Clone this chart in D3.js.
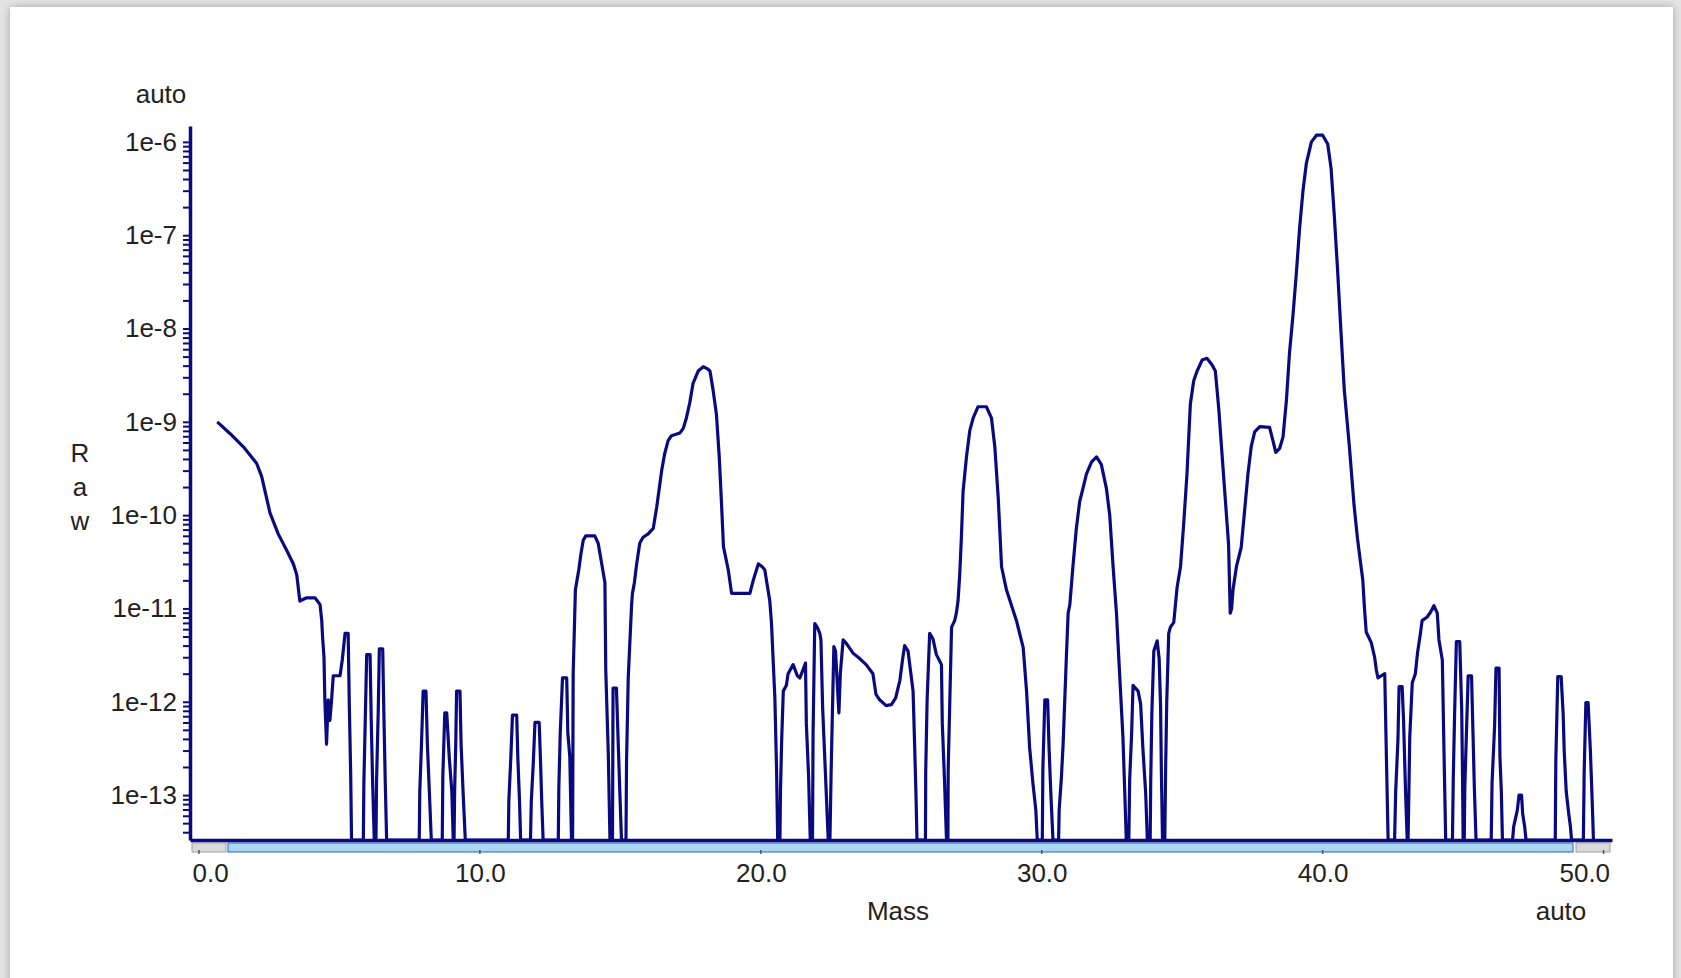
<!DOCTYPE html>
<html>
<head>
<meta charset="utf-8">
<script src="https://cdn.jsdelivr.net/npm/d3@7"></script>
<style>
  html, body { margin: 0; padding: 0; background: #e4e4e4; }
  svg { display: block; }
  text { font-family: "Liberation Sans", Arial, sans-serif; font-size: 26px; fill: #222; }
</style>
</head>
<body>
<div id="chart"></div>
<script>

// mass (amu) of each vertex of the trace
var mass = [
  0.65,1.10,1.58,2.05,2.23,2.53,2.82,3.12,3.36,3.48,3.59,3.83,4.13,4.31,4.37,4.40,4.45,4.48,4.54,4.60,4.66,4.72,4.78,5.02,5.10,5.20,5.31,5.35,5.40,5.43,
  5.85,5.87,5.92,5.97,6.09,6.13,6.18,6.24, 6.30,6.32,6.38,6.42,6.54,6.58,6.63,6.68,
  7.84,7.86,7.92,7.98,8.08,8.13,8.20,8.27, 8.66,8.68,8.75,8.82,8.91,9.00,9.05,
  9.08,9.10,9.14,9.17,9.29,9.33,9.40,9.48,
  11.01,11.03,11.10,11.16,11.31,11.35,11.41,11.45, 11.80,11.83,11.90,11.96,12.11,12.16,12.20,12.25,
  12.79,12.81,12.86,12.94,13.09,13.13,13.20,13.26,
  13.30,13.32,13.40,13.52,13.60,13.68,13.77,14.09,14.21,14.30,14.45,14.48,14.57,14.63,
  14.72,14.74,14.86,14.92,14.98,15.04,
  15.20,15.22,15.28,15.40,15.43,15.50,15.58,15.69,15.81,15.99,16.17,16.29,16.41,16.47,16.58,16.70,16.82,17.12,17.24,17.35,17.47,17.59,17.77,17.95,18.10,18.19,18.30,18.42,18.52,18.60,18.67,18.84,18.96,19.61,19.73,19.91,20.05,20.14,20.32,20.38,20.50,20.56,20.60,
  20.68,20.70,20.74,20.80,20.91,20.97,21.15,21.30,21.39,21.50,21.59,21.62,21.70,21.76,21.84,21.86,21.92,22.02,22.10,22.14,22.20,22.30,22.40,22.46,22.50,22.55,22.60,22.66,22.72,22.78,22.83,22.93,23.05,23.29,23.52,23.75,23.99,24.10,24.23,24.46,24.65,24.80,24.95,25.05,25.12,25.24,25.42,25.47,25.52,25.56,
  25.86,25.87,25.92,26.01,26.13,26.25,26.43,26.46,26.54,26.61,26.66,26.67,26.73,26.79,26.90,26.96,27.02,27.08,27.14,27.20,27.32,27.44,27.56,27.73,28.03,28.21,28.33,28.45,28.57,28.74,29.10,29.34,29.46,29.57,29.69,29.79,29.84,
  30.02,30.04,30.11,30.21,30.26,30.33,30.40,30.60,30.62,30.70,30.76,30.82,30.88,30.94,31.00,31.11,31.23,31.35,31.47,31.59,31.77,31.95,32.12,32.30,32.42,32.54,32.66,32.78,32.89,32.95,33.01,33.10,33.13,33.20,33.25,33.43,33.52,33.60,33.70,33.76,33.86,33.88,33.92,33.99,34.11,34.18,34.23,34.26,34.30,
  34.38,34.41,34.45,34.52,34.58,34.70,34.82,34.94,35.05,35.17,35.29,35.41,35.53,35.71,35.88,36.06,36.18,36.30,36.42,36.54,36.65,36.71,36.76,36.81,36.93,37.10,37.22,37.34,37.46,37.58,37.76,38.11,38.23,38.33,38.47,38.59,38.71,38.82,38.94,39.06,39.18,39.30,39.42,39.60,39.78,40.00,40.18,40.30,40.41,40.53,40.65,40.77,40.95,41.12,41.24,41.43,41.48,41.55,41.73,41.85,41.91,41.97,42.09,42.21,42.27,42.33,
  42.56,42.60,42.68,42.72,42.83,42.88,42.95,43.01,43.04,43.07,43.10,43.19,43.30,43.38,43.48,43.54,43.72,43.84,43.96,44.08,44.14,44.26,44.32,44.38,44.62,44.65,44.70,44.76,44.88,44.95,44.98,45.00,45.04,45.06,45.12,45.18,45.30,45.35,45.40,45.46,46.00,46.03,46.12,46.17,46.28,46.31,46.36,46.40,46.76,46.80,46.93,46.99,47.08,47.12,47.19,47.24,48.28,48.30,48.37,48.49,48.56,48.60,48.67,48.76,48.82,48.86,49.28,49.31,49.37,49.45,49.53,49.59,49.64
];

// raw ion current at each vertex (0 = below range)
var raw = [
  1.0e-9,7.5e-10,5.4e-10,3.6e-10,2.6e-10,1.05e-10,6.3e-11,4.2e-11,3.0e-11,2.3e-11,1.2e-11,1.3e-11,1.3e-11,1.1e-11,7.4e-12,4.9e-12,3.0e-12,1.05e-12,3.5e-13,1.05e-12,6.3e-13,1.05e-12,1.9e-12,1.9e-12,2.8e-12,5.4e-12,5.4e-12,9.5e-13,1.7e-13,0,
  0,1.4e-13,6.6e-13,3.2e-12,3.2e-12,6.6e-13,1.4e-13,0, 0,1.4e-13,7.8e-13,3.7e-12,3.7e-12,7.8e-13,1.4e-13,0,
  0,1.1e-13,3.5e-13,1.3e-12,1.3e-12,3.5e-13,1.1e-13,0, 0,1.6e-13,7.6e-13,7.6e-13,2.5e-13,1.1e-13,0,
  0,1.1e-13,3.5e-13,1.3e-12,1.3e-12,3.5e-13,1.1e-13,0,
  0,8.7e-14,2.5e-13,7.2e-13,7.2e-13,2.5e-13,8.7e-14,0, 0,8.7e-14,2.2e-13,6.0e-13,6.0e-13,2.2e-13,8.7e-14,0,
  0,1.2e-13,4.6e-13,1.8e-12,1.8e-12,4.6e-13,2.6e-13,0,
  0,2.0e-12,1.6e-11,2.6e-11,3.9e-11,5.4e-11,6.0e-11,6.0e-11,5.0e-11,3.5e-11,1.9e-11,2.2e-12,2.8e-13,0,
  0,1.4e-12,1.4e-12,3.9e-13,1.1e-13,0,
  0,2.3e-13,1.8e-12,1.1e-11,1.45e-11,1.9e-11,3.0e-11,5.0e-11,5.8e-11,6.3e-11,7.2e-11,1.2e-10,2.2e-10,3.0e-10,4.6e-10,6.3e-10,7.1e-10,7.6e-10,8.5e-10,1.1e-9,1.6e-9,2.6e-9,3.5e-9,3.9e-9,3.7e-9,3.5e-9,2.2e-9,1.2e-9,4.2e-10,1.35e-10,4.6e-11,2.6e-11,1.45e-11,1.45e-11,2.0e-11,3.0e-11,2.8e-11,2.6e-11,1.2e-11,6.9e-12,1.1e-12,1.9e-13,0,
  0,1.1e-13,3.7e-13,1.3e-12,1.5e-12,2.0e-12,2.5e-12,1.9e-12,1.8e-12,2.2e-12,2.6e-12,5.9e-13,1.6e-13,0,0,4.6e-13,6.9e-12,6.2e-12,5.4e-12,4.6e-12,8.7e-13,1.7e-13,0,0,1.6e-13,8.1e-13,3.9e-12,3.5e-12,1.6e-12,7.6e-13,2.0e-12,4.6e-12,4.2e-12,3.3e-12,2.9e-12,2.5e-12,2.0e-12,1.2e-12,1.05e-12,9.1e-13,9.3e-13,1.1e-12,1.7e-12,2.9e-12,4.0e-12,3.5e-12,1.3e-12,3.9e-13,1.1e-13,0,
  0,1.8e-13,1.05e-12,5.4e-12,4.7e-12,3.2e-12,2.5e-12,5.9e-13,1.4e-13,0,0,1.9e-13,1.1e-12,6.3e-12,7.4e-12,8.9e-12,1.2e-11,2.3e-11,5.8e-11,1.8e-10,4.2e-10,8.1e-10,1.1e-9,1.45e-9,1.45e-9,1.1e-9,5.4e-10,1.55e-10,2.8e-11,1.6e-11,7.4e-12,3.8e-12,1.3e-12,3.2e-13,1.3e-13,6.9e-14,0,
  0,1.9e-13,1.05e-12,1.05e-12,3.2e-13,9.5e-14,0,0,6.9e-14,1.55e-13,3.5e-13,1.05e-12,3.2e-12,8.9e-12,1.1e-11,2.8e-11,7.1e-11,1.4e-10,1.95e-10,2.75e-10,3.7e-10,4.2e-10,3.5e-10,1.95e-10,1.0e-10,2.8e-11,8.9e-12,1.8e-12,4.2e-13,1.2e-13,0,0,1.45e-13,4.6e-13,1.5e-12,1.3e-12,9.5e-13,3.2e-13,1.05e-13,0,0,1.45e-13,7.6e-13,3.5e-12,4.5e-12,2.9e-12,9.1e-13,1.7e-13,0,
  0,1.9e-13,1.0e-12,5.4e-12,6.3e-12,7.1e-12,1.7e-11,2.8e-11,7.8e-11,2.75e-10,1.55e-9,2.75e-9,3.5e-9,4.6e-9,4.8e-9,4.1e-9,3.5e-9,1.4e-9,4.4e-10,1.4e-10,4.9e-11,8.9e-12,1.0e-11,1.6e-11,2.8e-11,4.5e-11,1.1e-10,2.75e-10,5.5e-10,7.8e-10,8.9e-10,8.7e-10,6.3e-10,4.7e-10,5.2e-10,6.9e-10,1.7e-9,5.5e-9,1.35e-8,3.8e-8,1.2e-7,3.0e-7,5.9e-7,1.0e-6,1.18e-6,1.18e-6,9.5e-7,5.2e-7,1.7e-7,4.3e-8,9.5e-9,2.2e-9,5.5e-10,1.26e-10,5.6e-11,2.0e-11,1.1e-11,5.6e-12,4.3e-12,3.0e-12,2.2e-12,1.8e-12,1.9e-12,2.0e-12,2.5e-13,0,
  0,1.1e-13,3.9e-13,1.45e-12,1.45e-12,6.3e-13,1.1e-13,0,0,1.1e-13,4.1e-13,1.6e-12,2.0e-12,3.4e-12,5.4e-12,7.4e-12,8.1e-12,9.1e-12,1.07e-11,8.9e-12,4.6e-12,2.8e-12,2.9e-13,0,0,1.55e-13,8.1e-13,4.4e-12,4.4e-12,8.1e-13,1.55e-13,0,0,1.2e-13,4.8e-13,1.9e-12,1.9e-12,4.8e-13,1.2e-13,0,0,1.35e-13,5.4e-13,2.3e-12,2.3e-12,2.6e-13,1.1e-13,0,0,4.6e-14,6.9e-14,1.0e-13,1.0e-13,6.3e-14,4.6e-14,0,0,2.3e-13,1.86e-12,1.86e-12,7.6e-13,2.9e-13,1.1e-13,6.3e-14,4.6e-14,0,0,1.8e-13,9.8e-13,9.8e-13,3.0e-13,9.5e-14,0
];

var xTicks = [0, 10, 20, 30, 40, 50];
var yDecades = [-14, -13, -12, -11, -10, -9, -8, -7, -6];
var yMin = 3.3e-14, yMax = 1.48e-6;
var massMin = -0.32, massMax = 50.3;

var W = 1681, H = 978;
var navy = "#0a0a80";

var svg = d3.select("#chart").append("svg")
    .attr("width", W)
    .attr("height", H);

var filt = svg.append("defs").append("filter")
    .attr("id", "shadow")
    .attr("x", "-2%").attr("y", "-2%").attr("width", "104%").attr("height", "104%");
filt.append("feDropShadow")
    .attr("dx", 0).attr("dy", 0)
    .attr("stdDeviation", 4)
    .attr("flood-color", "#888")
    .attr("flood-opacity", 0.7);

// white panel
svg.append("rect")
    .attr("x", 10).attr("y", 7)
    .attr("width", 1663).attr("height", 1000)
    .attr("fill", "#fff")
    .attr("filter", "url(#shadow)");

var x = d3.scaleLinear().domain([massMin, massMax]).range([190, 1612]);
var y = d3.scaleLog().domain([yMin, yMax]).range([840, 126]);

// y axis: 1..9 x 10^k ticks, labels on the decades only
var yTickVals = [];
yDecades.forEach(function(e) {
  for (var k = 1; k < 10; k++) {
    var v = k * Math.pow(10, e);
    if (v >= yMin && v <= yMax) yTickVals.push(v);
  }
});

var gy = svg.append("g")
    .attr("transform", "translate(190,0)")
    .call(d3.axisLeft(y)
      .tickValues(yTickVals)
      .tickSize(7)
      .tickSizeOuter(0)
      .tickPadding(6)
      .tickFormat(function(v) {
        var e = Math.log10(v);
        return Math.abs(e - Math.round(e)) < 1e-6 ? "1e" + Math.round(e) : "";
      }));
gy.select(".domain").attr("stroke", navy).attr("stroke-width", 3.5);
gy.selectAll(".tick line").attr("stroke", navy).attr("stroke-width", 2);

// scroll bar under the x axis
svg.append("rect")
    .attr("x", 228).attr("y", 843)
    .attr("width", 1345).attr("height", 9)
    .attr("fill", "#a9d6f3")
    .attr("stroke", "#2c64a8").attr("stroke-width", 1);
[[192, 34], [1576, 34]].forEach(function(g) {
  svg.append("rect")
      .attr("x", g[0]).attr("y", 843)
      .attr("width", g[1]).attr("height", 9)
      .attr("fill", "#d9d9d9")
      .attr("stroke", "#a0a0a0").attr("stroke-width", 1);
});

// x axis
var gx = svg.append("g")
    .attr("transform", "translate(0,840)")
    .call(d3.axisBottom(x)
      .tickValues(xTicks)
      .tickSize(0)
      .tickSizeOuter(0)
      .tickPadding(24)
      .tickFormat(d3.format(".1f")));
gx.select(".domain").attr("stroke", navy).attr("stroke-width", 3.5);
gx.selectAll(".tick text")
    .attr("text-anchor", function(d, i) { return i == 0 ? "start" : (i == xTicks.length - 1 ? "end" : "middle"); })
    .attr("x", function(d, i) { return i == 0 ? -7 : (i == xTicks.length - 1 ? 6 : 0); });

svg.selectAll(".xmark")
    .data(xTicks)
    .enter().append("line")
    .attr("class", "xmark")
    .attr("x1", function(d) { return x(d); })
    .attr("x2", function(d) { return x(d); })
    .attr("y1", 850).attr("y2", 854)
    .attr("stroke", "#555").attr("stroke-width", 1.5);

// the trace
var spectrum = mass.map(function(m, i) { return {m: m, v: raw[i]}; });

var line = d3.line()
    .curve(d3.curveLinear)
    .x(function(d) { return x(d.m); })
    .y(function(d) { return y(Math.max(d.v, yMin)); });

svg.append("path")
    .datum(spectrum)
    .attr("fill", "none")
    .attr("stroke", navy)
    .attr("stroke-width", 3.2)
    .attr("stroke-linejoin", "round")
    .attr("d", line);

// labels
svg.append("text").attr("x", 161).attr("y", 103).attr("text-anchor", "middle").text("auto");
svg.append("text").attr("x", 898).attr("y", 920).attr("text-anchor", "middle").text("Mass");
svg.append("text").attr("x", 1561).attr("y", 920).attr("text-anchor", "middle").text("auto");

var ylab = svg.append("text").attr("text-anchor", "middle");
["R", "a", "w"].forEach(function(c, i) {
  ylab.append("tspan").attr("x", 80).attr("y", 462 + i * 34).text(c);
});

</script>
</body>
</html>
